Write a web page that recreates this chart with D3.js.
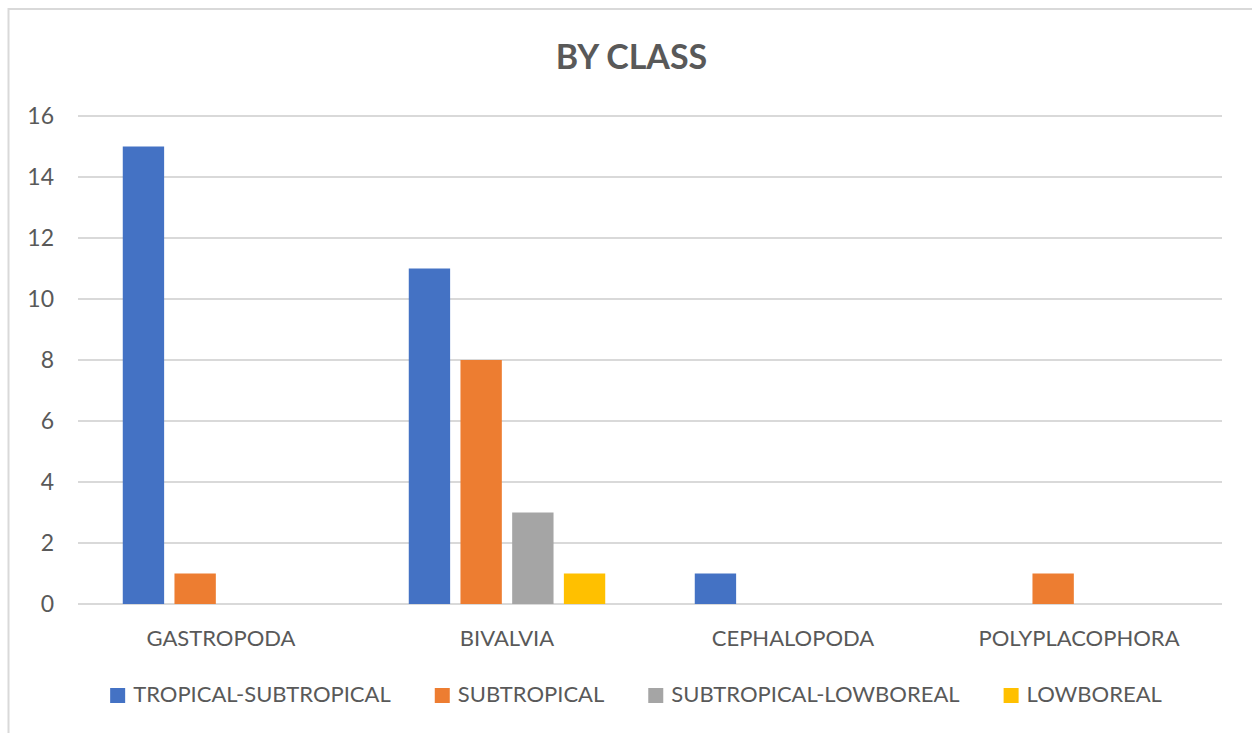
<!DOCTYPE html>
<html>
<head>
<meta charset="utf-8">
<script src="https://cdn.jsdelivr.net/npm/d3@7"></script>
<style>
  html, body { margin: 0; padding: 0; background: #fff; }
  svg { display: block; }
  text { font-family: Lato, "Open Sans", "Liberation Sans", sans-serif; fill: #595959; }
</style>
</head>
<body>
<svg id="chart" width="1252" height="733"></svg>
<script>
// Molluscan species counts by class, split by biogeographic group
const categories = ["GASTROPODA", "BIVALVIA", "CEPHALOPODA", "POLYPLACOPHORA"];
const seriesNames = ["TROPICAL-SUBTROPICAL", "SUBTROPICAL", "SUBTROPICAL-LOWBOREAL", "LOWBOREAL"];
const tropicalSubtropical = [15, 11, 1, 0];
const subtropical = [1, 8, 0, 1];
const subtropicalLowboreal = [0, 3, 0, 0];
const lowboreal = [0, 1, 0, 0];
const yTicks = [0, 2, 4, 6, 8, 10, 12, 14, 16];
const seriesColors = ["#4472C4", "#ED7D31", "#A5A5A5", "#FFC000"];
const title = "BY CLASS";

const seriesValues = [tropicalSubtropical, subtropical, subtropicalLowboreal, lowboreal];
const rows = categories.map((c, i) => ({
  category: c,
  values: seriesNames.map((s, j) => ({ series: s, value: seriesValues[j][i], color: seriesColors[j] }))
}));

const svg = d3.select("#chart");

// chart frame (runs past the right and bottom edges)
svg.append("rect")
  .attr("x", 8.5).attr("y", 9)
  .attr("width", 1400).attr("height", 900)
  .attr("fill", "none").attr("stroke", "#d9d9d9").attr("stroke-width", 2);

const plot = { left: 78, right: 1222, top: 116, bottom: 604 };

const x0 = d3.scaleBand().domain(categories).range([plot.left, plot.right]).padding(0);
const groupPad = 39.6;
const x1 = d3.scaleBand().domain(seriesNames)
  .range([groupPad, x0.bandwidth() - groupPad])
  .paddingInner(0.2).paddingOuter(0.1);
const y = d3.scaleLinear().domain([0, 16]).range([plot.bottom, plot.top]);

// horizontal gridlines
svg.append("g")
  .selectAll("line")
  .data(yTicks)
  .join("line")
  .attr("x1", plot.left).attr("x2", plot.right)
  .attr("y1", d => y(d)).attr("y2", d => y(d))
  .attr("stroke", "#d9d9d9").attr("stroke-width", 2);

// y tick labels
svg.append("g")
  .selectAll("text")
  .data(yTicks)
  .join("text")
  .attr("x", 54).attr("y", d => y(d))
  .attr("dy", "0.36em")
  .attr("text-anchor", "end")
  .attr("font-size", 23)
  .text(d => d);

// bars
const groups = svg.append("g")
  .selectAll("g")
  .data(rows)
  .join("g")
  .attr("transform", d => `translate(${x0(d.category)},0)`);

groups.selectAll("rect")
  .data(d => d.values.filter(v => v.value > 0))
  .join("rect")
  .attr("x", d => x1(d.series))
  .attr("width", x1.bandwidth())
  .attr("y", d => y(d.value))
  .attr("height", d => y(0) - y(d.value))
  .attr("fill", d => d.color);

// category labels
svg.append("g")
  .selectAll("text")
  .data(categories)
  .join("text")
  .attr("x", d => x0(d) + x0.bandwidth() / 2)
  .attr("y", 646)
  .attr("text-anchor", "middle")
  .attr("font-size", 22)
  .text(d => d);

// title
svg.append("text")
  .attr("x", 631.5).attr("y", 69)
  .attr("text-anchor", "middle")
  .attr("font-size", 34)
  .attr("font-weight", "bold")
  .text(title);

// legend, centred below the axis
const legend = svg.append("g");
const sq = 15, sqGap = 8, itemGap = 44;
const items = legend.selectAll("g")
  .data(seriesNames)
  .join("g");
items.append("rect")
  .attr("width", sq).attr("height", sq)
  .attr("y", 688)
  .attr("fill", (d, i) => seriesColors[i]);
items.append("text")
  .attr("x", sq + sqGap)
  .attr("y", 702)
  .attr("font-size", 22)
  .text(d => d);

const widths = [];
items.each(function () {
  widths.push(sq + sqGap + d3.select(this).select("text").node().getComputedTextLength());
});
const total = d3.sum(widths) + itemGap * (widths.length - 1);
let cursor = 636 - total / 2;
items.attr("transform", (d, i) => {
  const t = `translate(${cursor},0)`;
  cursor += widths[i] + itemGap;
  return t;
});
</script>
</body>
</html>
